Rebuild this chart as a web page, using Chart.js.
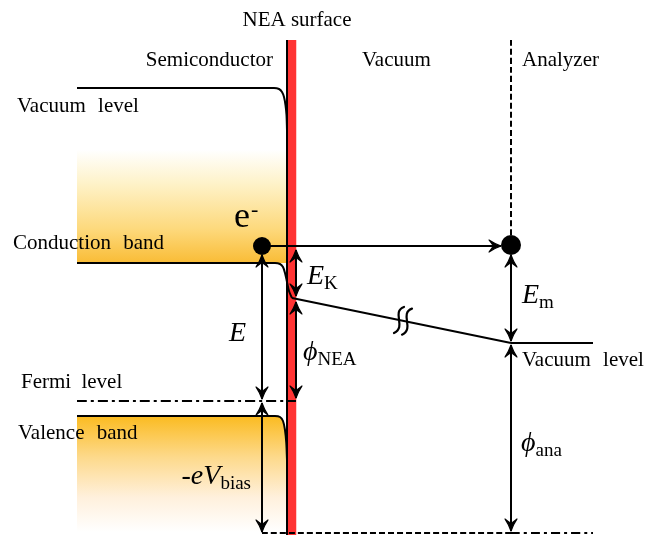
<!DOCTYPE html>
<html>
<head>
<meta charset="utf-8">
<script src="https://cdn.jsdelivr.net/npm/chart.js@4.4.1/dist/chart.umd.min.js"></script>
<style>
  body { margin: 0; background: #fff; }
  canvas { display: block; }
</style>
</head>
<body>
<canvas id="bandChart" width="645" height="537"></canvas>
<script>
// diagram data, x = position across the sample, y = energy (drawn top-down)
var vacuumLevelSemi = [[77, 88], [274, 88], [279, 89], [282, 92], [284, 97], [285.5, 105], [286.5, 115], [287, 130]];
var conductionBand = [[77, 263], [275, 263], [280, 264], [283, 267], [285, 273], [287, 282], [289, 291], [292, 298]];
var conductionFill = [[77, 263], [287, 263]];
var valenceBand = [[77, 416], [275, 416], [280, 417], [283, 421], [285, 430], [286.3, 443], [287, 460]];
var vacuumLevelVac = [[292, 298], [511, 343]];
var vacuumLevelAna = [[511, 343], [593, 343]];
var fermiLevel = [[77, 401], [296, 401]];
var analyzerFermi = [[262, 533], [511, 533]];
var analyzerFermiTail = [[511, 533], [593, 533]];
var surfaceLine = [[287, 40], [287, 535]];
var surfaceBar = [[292, 40], [292, 535]];
var analyzerWall = [[511, 40], [511, 236]];
var electronPath = [[262, 246], [501, 246]];
var electrons = [[262, 246], [511, 245]];
// vertical energy arrows: [x, top, bottom]
var energyArrows = [[262, 255, 399], [262, 403, 532], [296, 250, 296], [296, 302, 398], [511, 255, 341], [511, 345, 531]];

var regionNames = ['Semiconductor', 'Vacuum', 'Analyzer'];
var levelNames = ['Vacuum level', 'Conduction band', 'Fermi level', 'Valence band'];

function pts(arr) {
    return arr.map(function (p) { return { x: p[0], y: p[1] }; });
}

function line(arr, color, width, dash, order) {
    return {
        data: pts(arr),
        showLine: true,
        borderColor: color,
        borderWidth: width,
        borderDash: dash || [],
        pointRadius: 0,
        tension: 0.3,
        fill: false,
        order: order || 0
    };
}

function vGradient(y0, y1, stops) {
    return function (c) {
        var chart = c.chart;
        if (!chart.chartArea) return 'rgba(0,0,0,0)';
        var ys = chart.scales.y;
        var g = chart.ctx.createLinearGradient(0, ys.getPixelForValue(y0), 0, ys.getPixelForValue(y1));
        stops.forEach(function (s) { g.addColorStop(s[0], s[1]); });
        return g;
    };
}

var datasets = [];
var cbFill = line(conductionFill, 'rgba(0,0,0,0)', 0, null, 20);
cbFill.fill = { value: 150 };
cbFill.backgroundColor = vGradient(150, 263, [[0, 'rgba(255,255,255,1)'], [0.3, '#fef2c8'], [0.7, '#fdd97c'], [1, '#f9bc36']]);
datasets.push(cbFill);

var vbFill = line(valenceBand, 'rgba(0,0,0,0)', 0, null, 20);
vbFill.fill = { value: 537 };
vbFill.backgroundColor = vGradient(416, 532, [[0, '#fbbb20'], [0.35, '#fdd98a'], [0.7, '#fff0dc'], [1, '#ffffff']]);
datasets.push(vbFill);

datasets.push(line(surfaceBar, '#ff3333', 8.5, null, 10));
datasets.push(line(surfaceLine, '#000', 2));
datasets.push(line(vacuumLevelSemi, '#000', 2));
datasets.push(line(conductionBand, '#000', 2));
datasets.push(line(valenceBand, '#000', 2));
datasets.push(line(vacuumLevelVac, '#000', 2));
datasets.push(line(vacuumLevelAna, '#000', 2));
datasets.push(line(fermiLevel, '#000', 2, [10, 4, 3, 4]));
datasets.push(line(analyzerFermi, '#000', 2, [6, 3]));
datasets.push(line(analyzerFermiTail, '#000', 2, [9, 4, 3, 4]));
datasets.push(line(analyzerWall, '#000', 2, [6, 3]));
datasets.push(line(electronPath, '#000', 2));
energyArrows.forEach(function (a) {
    datasets.push(line([[a[0], a[1]], [a[0], a[2]]], '#000', 2));
});
datasets.push({
    data: pts(electrons),
    showLine: false,
    pointRadius: [9, 10],
    pointBackgroundColor: '#000',
    pointBorderWidth: 0,
    order: 0
});

function head(ctx, x, y, dx, dy) {
    // barbed arrowhead, tip at x,y pointing along dx,dy
    var len = 12, half = 6;
    var bx = x - dx * len, by = y - dy * len;
    var px = -dy, py = dx;
    ctx.beginPath();
    ctx.moveTo(x, y);
    ctx.quadraticCurveTo(x - dx * 6 + px * 2, y - dy * 6 + py * 2, bx + px * half, by + py * half);
    ctx.quadraticCurveTo(x - dx * 8 + px * 1, y - dy * 8 + py * 1, x - dx * 8, y - dy * 8);
    ctx.quadraticCurveTo(x - dx * 8 - px * 1, y - dy * 8 - py * 1, bx - px * half, by - py * half);
    ctx.quadraticCurveTo(x - dx * 6 - px * 2, y - dy * 6 - py * 2, x, y);
    ctx.closePath();
    ctx.lineWidth = 1.2;
    ctx.fill();
    ctx.stroke();
}

function fontOf(p) {
    return (p.i ? 'italic ' : '') + p.s + 'px "Liberation Serif", "Times New Roman", serif';
}

// word gap in the reference is wider than a normal space
function partWidth(ctx, p) {
    ctx.font = fontOf(p);
    var words = p.t.split(' ');
    var w = 0;
    words.forEach(function (wd, k) {
        w += ctx.measureText(wd).width;
        if (k < words.length - 1) w += ctx.measureText(' ').width + (p.ws || 0);
    });
    return w;
}

function rich(ctx, parts, x, y, align) {
    var w = 0;
    parts.forEach(function (p) { p.w = partWidth(ctx, p); w += p.w; });
    var cx = align === 'right' ? x - w : (align === 'center' ? x - w / 2 : x);
    parts.forEach(function (p) {
        ctx.font = fontOf(p);
        var wx = cx + (p.dx || 0);
        p.t.split(' ').forEach(function (wd) {
            ctx.fillText(wd, wx, y + (p.dy || 0));
            wx += ctx.measureText(wd).width + ctx.measureText(' ').width + (p.ws || 0);
        });
        cx += p.w;
    });
}

var diagramPlugin = {
    id: 'diagram',
    afterDatasetsDraw: function (chart) {
        var ctx = chart.ctx;
        var X = function (v) { return chart.scales.x.getPixelForValue(v); };
        var Y = function (v) { return chart.scales.y.getPixelForValue(v); };
        ctx.save();
        ctx.strokeStyle = '#000';
        ctx.fillStyle = '#000';
        ctx.lineCap = 'round';
        ctx.lineJoin = 'round';

        energyArrows.forEach(function (a) {
            head(ctx, X(a[0]), Y(a[1]), 0, -1);
            head(ctx, X(a[0]), Y(a[2]), 0, 1);
        });
        head(ctx, X(electronPath[1][0]), Y(electronPath[1][1]), 1, 0);

        // break mark on the vacuum level
        [399, 407].forEach(function (bx) {
            var by = Y(298 + (bx - 292) * 45 / 219);
            var cx = X(bx);
            ctx.beginPath();
            ctx.moveTo(cx + 5, by - 13);
            ctx.bezierCurveTo(cx - 8, by - 8, cx + 8, by + 7, cx - 5, by + 13);
            ctx.lineWidth = 2.2;
            ctx.stroke();
        });

        ctx.textBaseline = 'alphabetic';
        var S = 21;
        rich(ctx, [{ t: 'NEA surface', s: S }], X(297), Y(26), 'center');
        rich(ctx, [{ t: regionNames[0], s: S }], X(273), Y(66), 'right');
        rich(ctx, [{ t: regionNames[1], s: S }], X(362), Y(66), 'left');
        rich(ctx, [{ t: regionNames[2], s: S }], X(522), Y(66), 'left');
        rich(ctx, [{ t: levelNames[0], s: S, ws: 7 }], X(17), Y(112), 'left');
        rich(ctx, [{ t: levelNames[1], s: S, ws: 7 }], X(13), Y(249), 'left');
        rich(ctx, [{ t: levelNames[2], s: S, ws: 5 }], X(21), Y(388), 'left');
        rich(ctx, [{ t: levelNames[3], s: S, ws: 7 }], X(18), Y(439), 'left');
        rich(ctx, [{ t: 'Vacuum level', s: S, ws: 7 }], X(522), Y(366), 'left');

        rich(ctx, [{ t: 'e', s: 36 }, { t: '-', s: 22, dy: -11, dx: 1 }], X(234), Y(227), 'left');
        rich(ctx, [{ t: 'E', s: 28, i: true }], X(229), Y(341), 'left');
        rich(ctx, [{ t: 'E', s: 28, i: true }, { t: 'K', s: 19, dy: 5 }], X(307), Y(284), 'left');
        rich(ctx, [{ t: 'E', s: 28, i: true }, { t: 'm', s: 19, dy: 5 }], X(522), Y(303), 'left');
        rich(ctx, [{ t: '\u03d5', s: 28, i: true }, { t: 'NEA', s: 19, dy: 5 }], X(303), Y(360), 'left');
        rich(ctx, [{ t: '\u03d5', s: 28, i: true }, { t: 'ana', s: 19, dy: 5 }], X(521), Y(451), 'left');
        rich(ctx, [{ t: '-', s: 28 }, { t: 'eV', s: 28, i: true }, { t: 'bias', s: 19, dy: 5 }], X(251), Y(484), 'right');
        ctx.restore();
    }
};

new Chart(document.getElementById('bandChart').getContext('2d'), {
    type: 'scatter',
    data: { datasets: datasets },
    options: {
        responsive: false,
        animation: false,
        layout: { padding: 0, autoPadding: false },
        plugins: { legend: { display: false }, tooltip: { enabled: false } },
        scales: {
            x: { type: 'linear', min: 0, max: 645, display: false },
            y: { type: 'linear', min: 0, max: 537, reverse: true, display: false }
        }
    },
    plugins: [diagramPlugin]
});
</script>
</body>
</html>
